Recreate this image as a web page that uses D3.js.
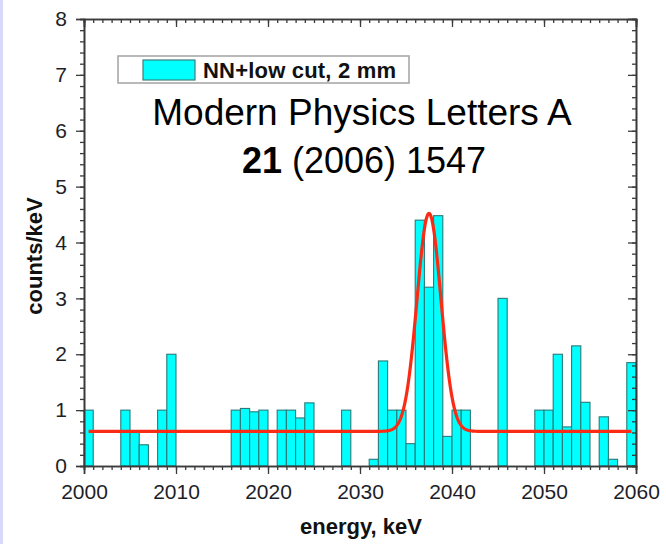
<!DOCTYPE html>
<html>
<head>
<meta charset="utf-8">
<script src="https://cdn.jsdelivr.net/npm/d3@7"></script>
<style>
  body { margin: 0; background: #fff; }
  svg { display: block; font-family: "Liberation Sans", Arial, Helvetica, sans-serif; }
</style>
</head>
<body>
<div id="chart"></div>
<script>
// histogram: lower edge of each 1 keV bin and its height (counts/keV)
var binStart = [2000, 2004, 2005, 2006, 2008, 2009, 2016, 2017, 2018, 2019,
                2021, 2022, 2023, 2024, 2028, 2031, 2032, 2033, 2034, 2035,
                2036, 2037, 2038, 2039, 2040, 2041, 2045, 2049, 2050, 2051,
                2052, 2053, 2054, 2056, 2057, 2059];
var counts = [1, 1, 0.6, 0.38, 1, 2, 1, 1.03, 0.97, 1,
              1, 1, 0.86, 1.13, 1, 0.12, 1.88, 1, 1, 0.4,
              4.4, 3.2, 4.48, 0.53, 1, 1, 3, 1, 1, 2,
              0.7, 2.15, 1.14, 0.88, 0.12, 1.85];
var binWidth = 1;

// fitted line: flat background + gaussian peak
var fitBackground = 0.62;
var fitAmplitude = 3.9;
var fitCentre = 2037.5;
var fitSigma = 1.3;
var fitRange = [2000.5, 2059.5];

var xTicks = [2000, 2010, 2020, 2030, 2040, 2050, 2060];
var yTicks = [0, 1, 2, 3, 4, 5, 6, 7, 8];

var legendLabel = "NN+low cut, 2 mm";
var noteLine1 = "Modern Physics Letters A";
var noteBold = "21";
var noteRest = " (2006) 1547";

var width = 666, height = 544;
var plotLeft = 84, plotRight = 636, plotTop = 19, plotBottom = 466;

var svg = d3.select('#chart').append('svg')
    .attr('width', width)
    .attr('height', height);

// pale strip on the left edge of the picture
svg.append('rect')
    .attr('x', 0).attr('y', 0)
    .attr('width', 3).attr('height', height)
    .attr('fill', '#d8d8fa');

var x = d3.scaleLinear().domain([2000, 2060]).range([plotLeft, plotRight]);
var y = d3.scaleLinear().domain([0, 8]).range([plotBottom, plotTop]);

// bars
svg.append('g')
    .selectAll('rect')
    .data(binStart)
    .enter().append('rect')
    .attr('x', function(d) { return x(d); })
    .attr('width', function(d) { return x(d + binWidth) - x(d); })
    .attr('y', function(d, i) { return y(counts[i]); })
    .attr('height', function(d, i) { return y(0) - y(counts[i]); })
    .attr('fill', '#00ffff')
    .attr('stroke', '#2a7a78')
    .attr('stroke-width', 1.1);

// fit curve
var fitPts = [];
for (var e = fitRange[0]; e <= fitRange[1] + 1e-9; e += 0.05) {
  fitPts.push([e, fitBackground + fitAmplitude * Math.exp(-0.5 * Math.pow((e - fitCentre) / fitSigma, 2))]);
}
svg.append('path')
    .datum(fitPts)
    .attr('fill', 'none')
    .attr('stroke', '#fb2c16')
    .attr('stroke-width', 3.2)
    .attr('stroke-linejoin', 'round')
    .attr('d', d3.line()
        .x(function(d) { return x(d[0]); })
        .y(function(d) { return y(d[1]); }));

// minor ticks
var xMinor = d3.range(2000, 2061, 1);
var yMinor = d3.range(0, 8.001, 0.2);

function drawAxis(axisFn, scale, major, minor, transform, labels) {
  var g = svg.append('g').attr('transform', transform);
  g.call(axisFn(scale).tickValues(minor).tickSize(4).tickFormat(''));
  var gm = svg.append('g').attr('transform', transform);
  gm.call(axisFn(scale).tickValues(major).tickSize(8).tickPadding(6)
      .tickFormat(labels ? d3.format('d') : ''));
  [g, gm].forEach(function(s) {
    s.select('.domain').attr('stroke', '#3a3a3a').attr('stroke-width', 1.6);
    s.selectAll('.tick line').attr('stroke', '#3a3a3a').attr('stroke-width', 1.3);
  });
  gm.selectAll('.tick text')
      .attr('fill', '#1e1e28')
      .style('font-size', '21px')
      .style('font-family', '"Liberation Sans", Arial, sans-serif');
  return gm;
}

var xb = drawAxis(d3.axisBottom, x, xTicks, xMinor, 'translate(0,' + plotBottom + ')', true);
xb.selectAll('.tick text').attr('dy', '0.78em').attr('y', 17);
drawAxis(d3.axisBottom, x, xTicks, xMinor, 'translate(0,' + plotTop + ')', false);
var yl = drawAxis(d3.axisLeft, y, yTicks, yMinor, 'translate(' + plotLeft + ',0)', true);
yl.selectAll('.tick text').attr('x', -17);
drawAxis(d3.axisLeft, y, yTicks, yMinor, 'translate(' + plotRight + ',0)', false);

// legend
var lg = svg.append('g');
lg.append('rect')
    .attr('x', 118).attr('y', 56)
    .attr('width', 291).attr('height', 27)
    .attr('fill', '#fff')
    .attr('stroke', '#a8a8a8')
    .attr('stroke-width', 1.6);
lg.append('rect')
    .attr('x', 143).attr('y', 60)
    .attr('width', 52).attr('height', 20)
    .attr('fill', '#00ffff')
    .attr('stroke', '#3c7f7d')
    .attr('stroke-width', 1.2);
lg.append('text')
    .attr('x', 203).attr('y', 78)
    .attr('font-size', 22)
    .attr('font-weight', 'bold')
    .attr('textLength', 193)
    .attr('fill', '#111')
    .text(legendLabel);

// journal note
svg.append('text')
    .attr('x', 362).attr('y', 125)
    .attr('text-anchor', 'middle')
    .attr('font-size', 37)
    .attr('fill', '#000')
    .text(noteLine1);
var t2 = svg.append('text')
    .attr('x', 364).attr('y', 173)
    .attr('text-anchor', 'middle')
    .attr('font-size', 36)
    .attr('fill', '#000');
t2.append('tspan').attr('font-weight', 'bold').text(noteBold);
t2.append('tspan').text(noteRest);

// axis titles
svg.append('text')
    .attr('x', 361).attr('y', 534)
    .attr('text-anchor', 'middle')
    .attr('font-size', 22)
    .attr('font-weight', 'bold')
    .attr('fill', '#111')
    .text('energy, keV');
svg.append('text')
    .attr('transform', 'translate(42,256) rotate(-90)')
    .attr('text-anchor', 'middle')
    .attr('font-size', 22)
    .attr('font-weight', 'bold')
    .attr('fill', '#111')
    .text('counts/keV');
</script>
</body>
</html>
